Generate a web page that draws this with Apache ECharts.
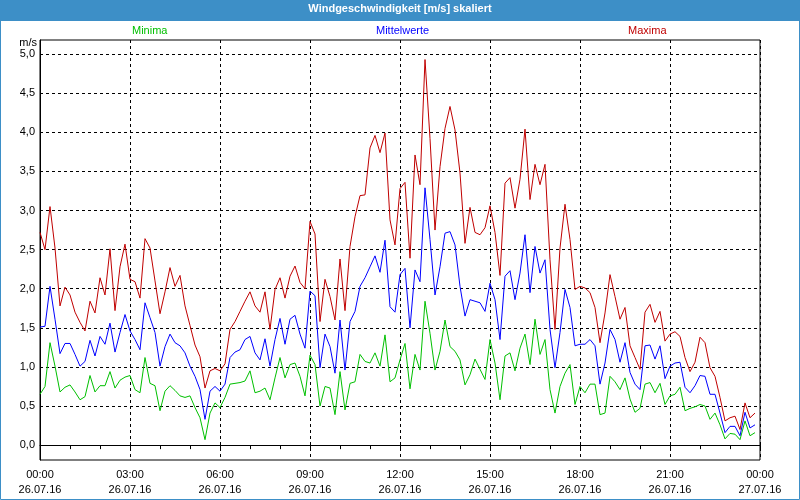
<!DOCTYPE html>
<html>
<head>
<meta charset="utf-8">
<script src="https://cdn.jsdelivr.net/npm/echarts@6/dist/echarts.min.js"></script>
<style>html,body{margin:0;padding:0;background:#fff}#c{width:800px;height:500px}</style>
</head>
<body>
<div id="c"></div>
<script>
// sampling: one value every 10 minutes, 26.07.16 00:00 .. 23:50
const stepMinutes = 10;
const xTickLabels = ['00:00\n26.07.16','03:00\n26.07.16','06:00\n26.07.16','09:00\n26.07.16','12:00\n26.07.16','15:00\n26.07.16','18:00\n26.07.16','21:00\n26.07.16','00:00\n27.07.16'];
const yTickValues = [0,0.5,1,1.5,2,2.5,3,3.5,4,4.5,5];
const seriesNames = ['Minima','Mittelwerte','Maxima'];

const maxima = [
2.72,2.50,3.05,2.52,1.78,2.02,1.92,1.70,1.57,1.46,
1.84,1.69,2.14,1.92,2.51,1.72,2.28,2.57,2.12,2.09,
1.88,2.64,2.52,2.10,1.68,1.96,2.27,2.03,2.17,1.78,
1.53,1.28,1.13,0.73,0.95,0.98,0.95,1.04,1.48,1.58,
1.71,1.84,1.96,1.78,1.70,1.96,1.48,1.99,2.14,1.88,
2.16,2.29,2.08,2.00,2.86,2.70,1.58,2.12,1.90,1.60,
2.38,1.72,2.54,2.92,3.19,3.20,3.80,3.96,3.74,3.99,
2.88,2.56,3.28,3.36,2.39,3.71,3.33,4.93,3.92,2.75,
3.56,4.05,4.33,4.03,3.48,2.58,3.04,2.72,2.69,2.78,
3.06,2.72,2.17,3.35,3.42,3.03,3.40,4.04,3.14,3.59,
3.33,3.59,2.37,1.48,2.52,3.08,2.63,1.99,2.03,2.01,
1.95,1.76,1.31,1.69,2.18,1.90,1.61,1.76,1.27,1.12,
0.97,1.70,1.80,1.57,1.71,1.33,1.42,1.45,1.39,1.12,
0.94,1.06,1.38,1.31,0.99,0.88,0.61,0.31,0.35,0.37,
0.20,0.54,0.35,0.41];

const mittelwerte = [
1.51,1.52,2.03,1.61,1.17,1.30,1.30,1.16,1.01,1.07,
1.34,1.14,1.39,1.29,1.56,1.19,1.44,1.67,1.46,1.35,
1.22,1.82,1.63,1.44,1.01,1.26,1.42,1.31,1.27,1.18,
1.01,0.88,0.71,0.33,0.69,0.75,0.69,0.78,1.12,1.19,
1.22,1.35,1.39,1.18,1.09,1.36,1.01,1.35,1.62,1.29,
1.61,1.66,1.42,1.24,1.97,1.91,0.99,1.42,1.26,0.92,
1.60,0.96,1.58,1.71,2.03,2.14,2.28,2.42,2.21,2.62,
1.77,1.70,2.18,2.26,1.50,2.24,2.09,3.29,2.63,1.92,
2.28,2.71,2.73,2.56,2.03,1.65,1.86,1.84,1.82,1.71,
2.07,1.86,1.35,2.16,2.23,1.86,2.20,2.69,1.95,2.54,
2.20,2.37,1.48,0.99,1.44,1.99,1.76,1.27,1.29,1.29,
1.35,1.27,0.78,1.05,1.48,1.35,1.06,1.31,0.93,0.78,
0.71,1.27,1.28,1.10,1.27,0.85,1.01,1.05,1.06,0.74,
0.67,0.76,0.89,0.88,0.65,0.65,0.41,0.16,0.24,0.24,
0.12,0.42,0.22,0.26];

const minima = [
0.65,0.75,1.31,1.01,0.68,0.74,0.77,0.68,0.58,0.62,
0.89,0.68,0.76,0.76,0.94,0.73,0.83,0.87,0.89,0.71,
0.67,1.12,0.79,0.76,0.44,0.69,0.76,0.70,0.63,0.61,
0.63,0.48,0.35,0.07,0.41,0.54,0.48,0.61,0.78,0.79,
0.80,0.82,0.95,0.67,0.69,0.73,0.58,0.86,1.12,0.86,
1.03,1.05,0.88,0.63,1.15,1.03,0.50,0.75,0.73,0.39,
0.94,0.45,0.79,0.81,1.16,1.07,1.05,1.18,1.01,1.41,
0.81,0.86,1.09,1.30,0.72,1.16,0.96,1.84,1.43,0.96,
1.20,1.60,1.26,1.20,1.09,0.77,0.90,1.10,0.97,0.84,
1.35,1.05,0.58,1.14,1.18,0.95,1.24,1.42,1.03,1.61,
1.16,1.35,0.71,0.41,0.75,0.92,1.03,0.52,0.75,0.67,
0.78,0.78,0.39,0.41,0.88,0.81,0.71,0.86,0.59,0.42,
0.47,0.78,0.80,0.67,0.79,0.52,0.63,0.65,0.74,0.44,
0.47,0.49,0.52,0.50,0.33,0.41,0.26,0.08,0.15,0.14,
0.07,0.31,0.12,0.16];

const colors = {Minima:'#00c000', Mittelwerte:'#0000ff', Maxima:'#c00000'};
const FONT = 'Liberation Sans, Arial, sans-serif';
const toPairs = arr => arr.map((v, i) => [i * stepMinutes, v]);
const seriesData = {Minima: minima, Mittelwerte: mittelwerte, Maxima: maxima};

const chart = echarts.init(document.getElementById('c'), null, {renderer: 'canvas'});
const legendLeft = {Minima: 126, Mittelwerte: 370, Maxima: 622};

chart.setOption({
  animation: false,
  backgroundColor: '#ffffff',
  textStyle: {fontFamily: FONT},
  title: {
    text: 'Windgeschwindigkeit [m/s] skaliert',
    left: 'center', top: 3, padding: 0,
    textStyle: {color: '#ffffff', fontSize: 11, fontWeight: 'bold', fontFamily: FONT}
  },
  graphic: [
    {type: 'rect', z: -10, shape: {x: 0, y: 0, width: 800, height: 21}, style: {fill: '#3d8fc7'}},
    {type: 'rect', z: 100, shape: {x: 0.5, y: 0.5, width: 799, height: 499}, style: {fill: 'none', stroke: '#3d8fc7', lineWidth: 1}}
  ],
  legend: seriesNames.map(n => ({
    data: [{name: n, textStyle: {color: colors[n]}}],
    left: legendLeft[n], top: 25, padding: 0,
    itemWidth: 0, itemHeight: 0, itemGap: 0, selectedMode: false,
    textStyle: {fontSize: 11, fontFamily: FONT, color: colors[n]}
  })),
  grid: {left: 40, right: 40, top: 40, bottom: 40, show: true, borderColor: '#000', borderWidth: 1, backgroundColor: 'transparent'},
  xAxis: {
    type: 'value', min: 0, max: 1440, interval: 180,
    axisLine: {show: true, lineStyle: {color: '#000', width: 1}},
    axisTick: {show: true, length: 4, lineStyle: {color: '#000'}},
    minorTick: {show: true, splitNumber: 3, length: 4, lineStyle: {color: '#000'}},
    splitLine: {show: true, lineStyle: {color: '#000', type: [3, 3], width: 1}},
    axisLabel: {
      color: '#000', fontSize: 11, fontFamily: FONT, margin: 7, lineHeight: 15,
      showMinLabel: true, showMaxLabel: true,
      formatter: v => xTickLabels[Math.round(v / 180)] || ''
    }
  },
  yAxis: {
    type: 'value', min: -0.19, max: 5.18,
    name: 'm/s', nameLocation: 'end', nameGap: -12,
    nameTextStyle: {color: '#000', fontSize: 11, fontFamily: FONT, align: 'right', padding: [0, 3, 0, 0]},
    axisLine: {show: true, lineStyle: {color: '#000'}},
    axisTick: {show: false, customValues: yTickValues},
    splitLine: {show: true, lineStyle: {color: '#000', type: [3, 3], width: 1}},
    axisLabel: {
      color: '#000', fontSize: 11, fontFamily: FONT, margin: 5,
      customValues: yTickValues,
      formatter: v => v.toFixed(1).replace('.', ',')
    }
  },
  series: seriesNames.map(n => ({
    name: n, type: 'line', data: toPairs(seriesData[n]),
    showSymbol: false, symbol: 'none',
    lineStyle: {color: colors[n], width: 1},
    itemStyle: {color: colors[n]},
    clip: true
  }))
});
</script>
</body>
</html>
